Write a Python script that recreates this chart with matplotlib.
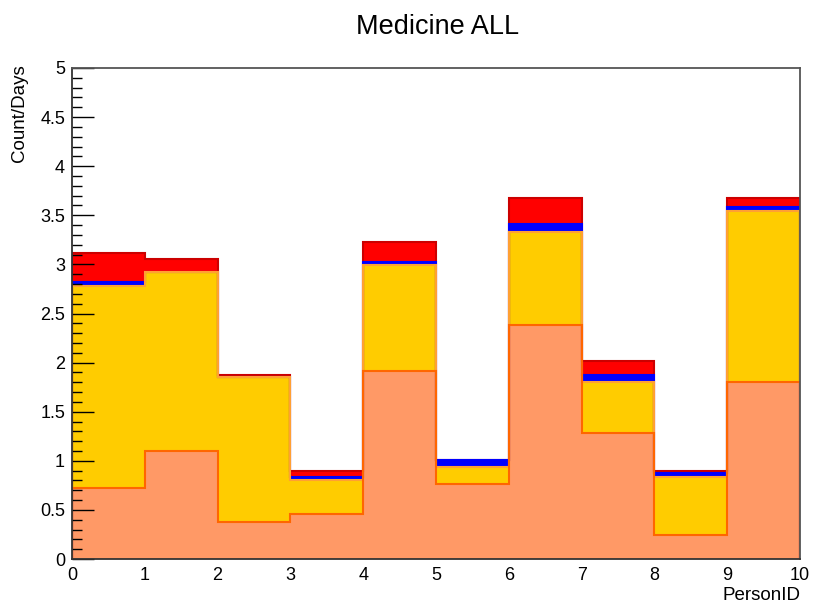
import matplotlib
matplotlib.use("Agg")
import matplotlib.pyplot as plt
import numpy as np
from matplotlib.ticker import MultipleLocator

# Person bins 0..10
edges = np.arange(0, 11)
x_tick_labels = [str(i) for i in range(11)]

# Stacked components per person (bottom to top)
layer_salmon = [0.72, 1.10, 0.38, 0.46, 1.91, 0.76, 2.38, 1.28, 0.24, 1.80]
layer_gold = [2.06, 1.82, 1.47, 0.34, 1.08, 0.18, 0.95, 0.52, 0.59, 1.74]
layer_blue = [0.04, 0.00, 0.00, 0.04, 0.03, 0.07, 0.08, 0.07, 0.05, 0.04]
layer_red = [0.30, 0.13, 0.02, 0.06, 0.21, 0.00, 0.27, 0.15, 0.02, 0.10]

layers = [layer_salmon, layer_gold, layer_blue, layer_red]
fill_colors = ["#FF9966", "#FFCC00", "#0000FF", "#FF0000"]
line_colors = ["#FF6600", "#FFA033", "#0000FF", "#CC0000"]

plt.rcParams["font.family"] = ["Liberation Sans", "DejaVu Sans"]

fig = plt.figure(figsize=(8.16, 6.08), dpi=100)
ax = fig.add_axes([72 / 816, 49 / 608, 728 / 816, 491 / 608])

# cumulative totals, drawn from the top of the stack downwards
cums = np.cumsum(np.array(layers), axis=0)
for i in range(len(layers) - 1, -1, -1):
    ax.stairs(cums[i], edges, baseline=0, fill=True, color=fill_colors[i],
              linewidth=0, zorder=1)
    ax.stairs(cums[i], edges, baseline=0, fill=False, edgecolor=line_colors[i],
              linewidth=1.5, zorder=1.1)

ax.set_xlim(0, 10)
ax.set_ylim(0, 5)

ax.set_xticks(edges)
ax.set_xticklabels(x_tick_labels)
ax.tick_params(axis="x", length=0, pad=6, labelsize=13)

ax.yaxis.set_major_locator(MultipleLocator(0.5))
ax.yaxis.set_minor_locator(MultipleLocator(0.1))
ax.set_yticks(np.arange(0, 5.01, 0.5))
ax.set_yticklabels(["0", "0.5", "1", "1.5", "2", "2.5", "3", "3.5", "4", "4.5", "5"])
ax.tick_params(axis="y", which="major", direction="in", length=16, width=1.0,
               pad=5, labelsize=13, left=True, right=False)
ax.tick_params(axis="y", which="minor", direction="in", length=7, width=1.0,
               left=True, right=False)

for side in ["left", "bottom"]:
    ax.spines[side].set_color("#333333")
    ax.spines[side].set_linewidth(1.3)
for side in ["top", "right"]:
    ax.spines[side].set_color("#555555")
    ax.spines[side].set_linewidth(1.3)

fig.text(438 / 816, 1 - 27 / 608, "Medicine ALL", ha="center", va="center",
         fontsize=19.5)
fig.text(20 / 816, 1 - 64 / 608, "Count/Days", rotation=90, ha="center",
         va="top", fontsize=13.5)
fig.text(800 / 816, 1 - 596 / 608, "PersonID", ha="right", va="center",
         fontsize=13.5)

fig.savefig("out.png", dpi=100)
